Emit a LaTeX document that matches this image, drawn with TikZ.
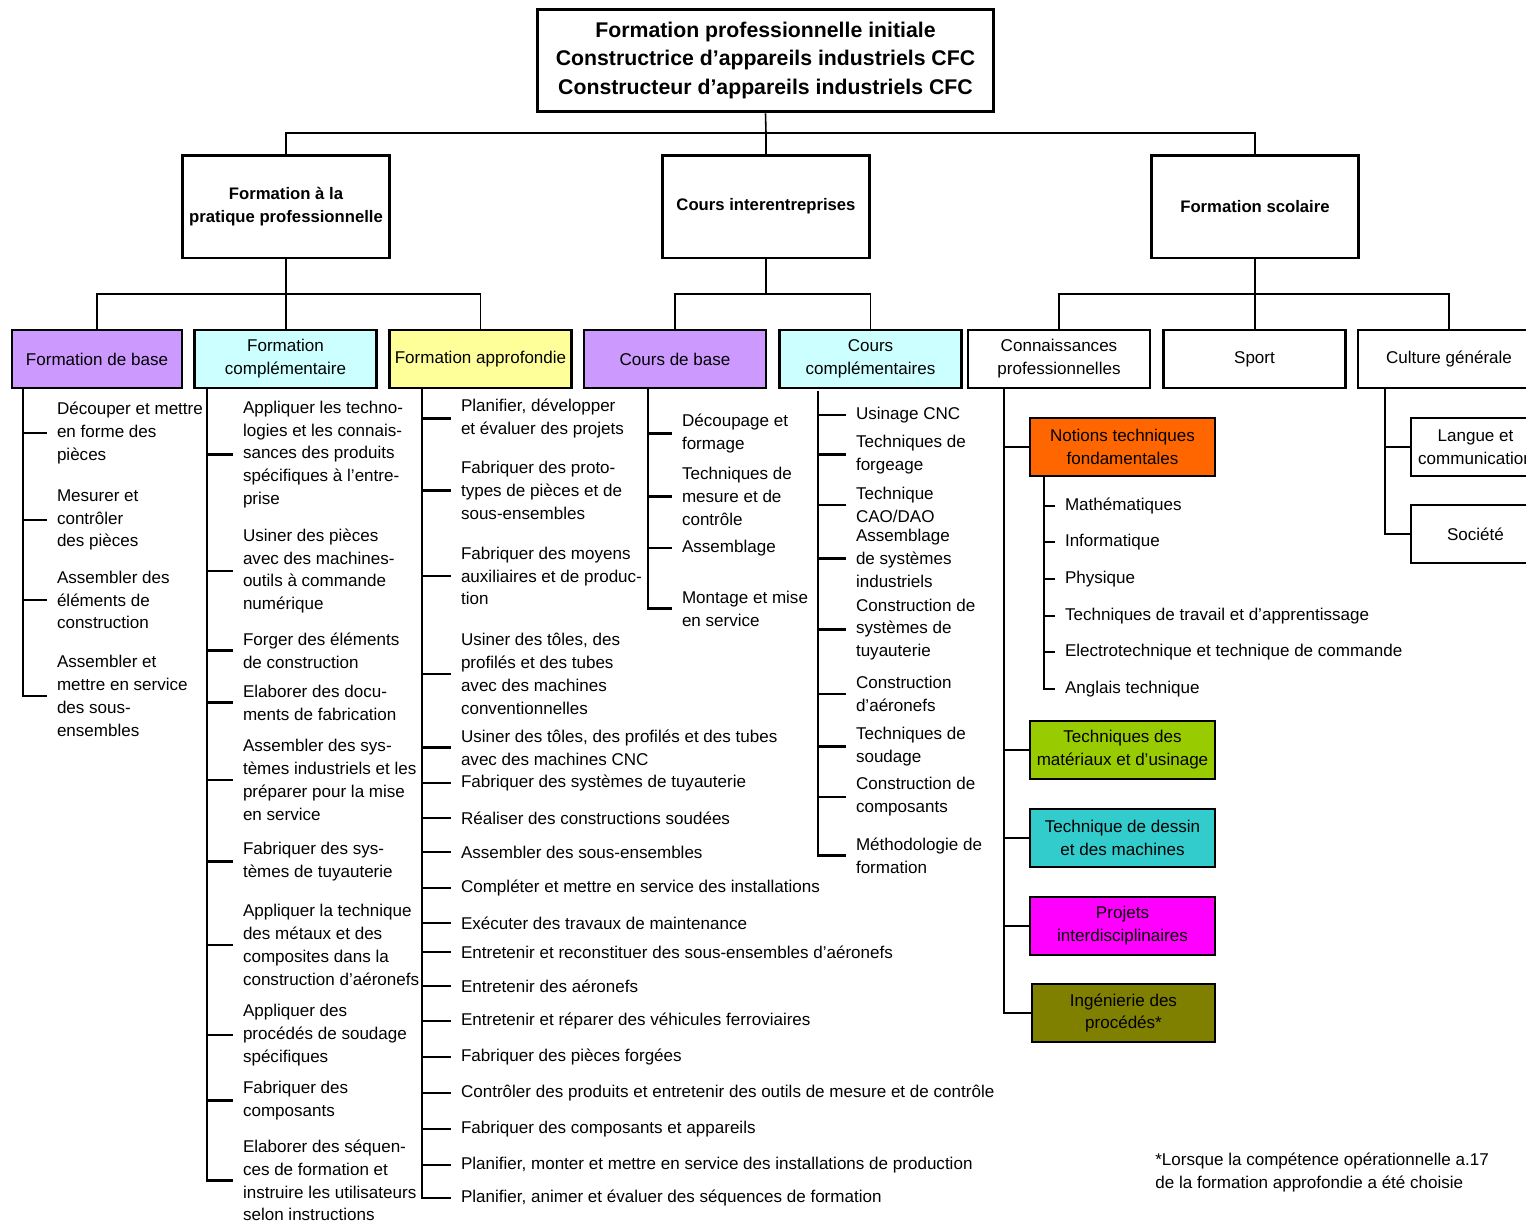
\documentclass[tikz,border=0pt]{standalone}
\usepackage{fontspec}
\setmainfont{Liberation Sans}
\usepackage{xcolor}
\usetikzlibrary{positioning}

\definecolor{lila}{HTML}{CC99FF}
\definecolor{hellcyan}{HTML}{CCFFFF}
\definecolor{hellgelb}{HTML}{FFFF99}
\definecolor{orangebox}{HTML}{FF6600}
\definecolor{gruenbox}{HTML}{99CC00}
\definecolor{tuerkisbox}{HTML}{33CCCC}
\definecolor{magentabox}{HTML}{FF00FF}
\definecolor{olivbox}{HTML}{808000}

\newcommand{\bodyfont}{\fontsize{9.7}{13}\selectfont}

\tikzset{
  topbox/.style={draw, line width=1.7pt, minimum width=9.14cm, minimum height=2.06cm,
    align=center, font=\fontsize{12.1}{16.4}\selectfont\bfseries},
  mainbox/.style={draw, line width=1.7pt, minimum width=4.16cm, minimum height=2.06cm,
    align=center, inner sep=1pt, font=\fontsize{9.5}{13}\selectfont\bfseries},
  subbox/.style={draw, line width=1.2pt, minimum width=3.64cm, minimum height=1.16cm,
    align=center, inner sep=1pt, font=\bodyfont},
  colbox/.style={subbox, minimum width=3.7cm},
  item/.style={anchor=west, align=left, inner xsep=5.5pt, inner ysep=0pt, font=\bodyfont},
  link/.style={line width=0.9pt},
  tick/.style={line width=1.4pt}
}

\begin{document}
\begin{tikzpicture}[x=0.02cm, y=-0.02cm]
  \useasboundingbox (0,0) rectangle (1526,1224);
  \clip (0,0) rectangle (1526,1224);

  % Titre
  \node[topbox] (top) at (765.5,60.5) {Formation professionnelle initiale\\Constructrice d’appareils industriels CFC\\Constructeur d’appareils industriels CFC};

  % Trois lieux de formation
  \node[mainbox] (pp) at (286,206.5) {Formation à la\\pratique professionnelle};
  \node[mainbox] (ci) at (766,206.5) {Cours interentreprises};
  \node[mainbox] (fs) at (1255,206.5) {Formation scolaire};

  \coordinate (j0) at (766,133);
  \draw[link] (top.south) -- (j0);
  \draw[link] (pp.north) |- (j0) -| (fs.north);
  \draw[link] (j0) -- (ci.north);

  % Troisieme niveau
  \node[subbox, fill=lila, minimum width=3.4cm] (fb) at (97,359) {Formation de base};
  \node[subbox, fill=hellcyan] (fc) at (285.5,359) {Formation\\complémentaire};
  \node[subbox, fill=hellgelb] (fa) at (480.5,359) {Formation approfondie};
  \node[subbox, fill=lila] (cb) at (675,359) {Cours de base};
  \node[subbox, fill=hellcyan] (cc) at (870.5,359) {Cours\\complémentaires};
  \node[subbox] (kp) at (1059,359) {Connaissances\\professionnelles};
  \node[subbox] (sp) at (1254.5,359) {Sport};
  \node[subbox] (cg) at (1449,359) {Culture générale};

  \coordinate (j1) at (286,294);
  \draw[link] (pp.south) -- (j1);
  \draw[link] (fb.north) |- (j1) -| (fa.north);
  \draw[link] (j1) -- (j1 |- fc.north);
  \coordinate (j2) at (766,294);
  \draw[link] (ci.south) -- (j2);
  \draw[link] (cb.north) |- (j2) -| (cc.north);
  \coordinate (j3) at (1255,294);
  \draw[link] (fs.south) -- (j3);
  \draw[link] (kp.north) |- (j3) -| (cg.north);
  \draw[link] (j3) -- (j3 |- sp.north);

  % Formation de base
  \node[item] (fb1) at (47,433) {Découper et mettre\\en forme des\\pièces};
  \node[item] (fb2) at (47,520) {Mesurer et\\contrôler\\des pièces};
  \node[item] (fb3) at (47,600) {Assembler des\\éléments de\\construction};
  \node[item] (fb4) at (47,696) {Assembler et\\mettre en service\\des sous-\\ensembles};
  \coordinate (fbs) at (23,388);
  \draw[tick] (fbs) |- (fb4.west) (fbs |- fb1.west) -- (fb1.west)
    (fbs |- fb2.west) -- (fb2.west) (fbs |- fb3.west) -- (fb3.west);

  % Formation complementaire
  \node[item] (fc1) at (233,454.5) {Appliquer les techno-\\logies et les connais-\\sances des produits\\spécifiques à l’entre-\\prise};
  \node[item] (fc2) at (233,571) {Usiner des pièces\\avec des machines-\\outils à commande\\numérique};
  \node[item] (fc3) at (233,650.5) {Forger des éléments\\de construction};
  \node[item] (fc4) at (233,702.5) {Elaborer des docu-\\ments de fabrication};
  \node[item] (fc5) at (233,780) {Assembler des sys-\\tèmes industriels et les\\préparer pour la mise\\en service};
  \node[item] (fc6) at (233,861.5) {Fabriquer des sys-\\tèmes de tuyauterie};
  \node[item] (fc7) at (233,945) {Appliquer la technique\\des métaux et des\\composites dans la\\construction d’aéronefs};
  \node[item] (fc8) at (233,1035) {Appliquer des\\procédés de soudage\\spécifiques};
  \node[item] (fc9) at (233,1100.5) {Fabriquer des\\composants};
  \node[item] (fc10) at (233,1180.5) {Elaborer des séquen-\\ces de formation et\\instruire les utilisateurs\\selon instructions};
  \coordinate (fcs) at (207,388);
  \draw[tick] (fcs) |- (fc10.west) (fcs |- fc1.west) -- (fc1.west)
    (fcs |- fc2.west) -- (fc2.west) (fcs |- fc3.west) -- (fc3.west)
    (fcs |- fc4.west) -- (fc4.west) (fcs |- fc5.west) -- (fc5.west)
    (fcs |- fc6.west) -- (fc6.west) (fcs |- fc7.west) -- (fc7.west)
    (fcs |- fc8.west) -- (fc8.west) (fcs |- fc9.west) -- (fc9.west);

  % Formation approfondie
  \node[item] (fa1) at (451,418.5) {Planifier, développer\\et évaluer des projets};
  \node[item] (fa2) at (451,490.5) {Fabriquer des proto-\\types de pièces et de\\sous-ensembles};
  \node[item] (fa3) at (451,576) {Fabriquer des moyens\\auxiliaires et de produc-\\tion};
  \node[item] (fa4) at (451,674) {Usiner des tôles, des\\profilés et des tubes\\avec des machines\\conventionnelles};
  \node[item] (fa5) at (451,747.5) {Usiner des tôles, des profilés et des tubes\\avec des machines CNC};
  \node[item] (fa6) at (451,783) {Fabriquer des systèmes de tuyauterie};
  \node[item] (fa7) at (451,818) {Réaliser des constructions soudées};
  \node[item] (fa8) at (451,852) {Assembler des sous-ensembles};
  \node[item] (fa9) at (451,888) {Compléter et mettre en service des installations};
  \node[item] (fa10) at (451,923) {Exécuter des travaux de maintenance};
  \node[item] (fa11) at (451,952) {Entretenir et reconstituer des sous-ensembles d’aéronefs};
  \node[item] (fa12) at (451,986) {Entretenir des aéronefs};
  \node[item] (fa13) at (451,1021) {Entretenir et réparer des véhicules ferroviaires};
  \node[item] (fa14) at (451,1057) {Fabriquer des pièces forgées};
  \node[item] (fa15) at (451,1093) {Contrôler des produits et entretenir des outils de mesure et de contrôle};
  \node[item] (fa16) at (451,1129) {Fabriquer des composants et appareils};
  \node[item] (fa17) at (451,1165) {Planifier, monter et mettre en service des installations de production};
  \node[item] (fa18) at (451,1198) {Planifier, animer et évaluer des séquences de formation};
  \coordinate (fas) at (422,388);
  \draw[tick] (fas) |- (fa18.west) (fas |- fa1.west) -- (fa1.west)
    (fas |- fa2.west) -- (fa2.west) (fas |- fa3.west) -- (fa3.west)
    (fas |- fa4.west) -- (fa4.west) (fas |- fa5.west) -- (fa5.west)
    (fas |- fa6.west) -- (fa6.west) (fas |- fa7.west) -- (fa7.west)
    (fas |- fa8.west) -- (fa8.west) (fas |- fa9.west) -- (fa9.west)
    (fas |- fa10.west) -- (fa10.west) (fas |- fa11.west) -- (fa11.west)
    (fas |- fa12.west) -- (fa12.west) (fas |- fa13.west) -- (fa13.west)
    (fas |- fa14.west) -- (fa14.west) (fas |- fa15.west) -- (fa15.west)
    (fas |- fa16.west) -- (fa16.west) (fas |- fa17.west) -- (fa17.west);

  % Cours de base
  \node[item] (cb1) at (672,433.5) {Découpage et\\formage};
  \node[item] (cb2) at (672,496.5) {Techniques de\\mesure et de\\contrôle};
  \node[item] (cb3) at (672,548) {Assemblage};
  \node[item] (cb4) at (672,608.5) {Montage et mise\\en service};
  \coordinate (cbs) at (648,388);
  \draw[tick] (cbs) |- (cb4.west) (cbs |- cb1.west) -- (cb1.west)
    (cbs |- cb2.west) -- (cb2.west) (cbs |- cb3.west) -- (cb3.west);

  % Cours complementaires
  \node[item] (cc1) at (846,415) {Usinage CNC};
  \node[item] (cc2) at (846,454.5) {Techniques de\\forgeage};
  \node[item] (cc3) at (846,505) {Technique\\CAO/DAO};
  \node[item] (cc4) at (846,558.5) {Assemblage\\de systèmes\\industriels};
  \node[item] (cc5) at (846,629.5) {Construction de\\systèmes de\\tuyauterie};
  \node[item] (cc6) at (846,694) {Construction\\d’aéronefs};
  \node[item] (cc7) at (846,746.5) {Techniques de\\soudage};
  \node[item] (cc8) at (846,797) {Construction de\\composants};
  \node[item] (cc9) at (846,855.5) {Méthodologie de\\formation};
  \coordinate (ccs) at (818,391);
  \draw[tick] (ccs) |- (cc9.west) (ccs |- cc1.west) -- (cc1.west)
    (ccs |- cc2.west) -- (cc2.west) (ccs |- cc3.west) -- (cc3.west)
    (ccs |- cc4.west) -- (cc4.west) (ccs |- cc5.west) -- (cc5.west)
    (ccs |- cc6.west) -- (cc6.west) (ccs |- cc7.west) -- (cc7.west)
    (ccs |- cc8.west) -- (cc8.west);

  % Connaissances professionnelles
  \node[colbox, fill=orangebox] (nt) at (1122.5,447) {Notions techniques\\fondamentales};
  \node[colbox, fill=gruenbox] (tm) at (1122.5,750) {Techniques des\\matériaux et d’usinage};
  \node[colbox, fill=tuerkisbox] (td) at (1122.5,838) {Technique de dessin\\et des machines};
  \node[colbox, fill=magentabox] (pi) at (1122.5,926) {Projets\\interdisciplinaires};
  \node[colbox, fill=olivbox, minimum width=3.66cm] (ip) at (1123.5,1013) {Ingénierie des\\procédés*};
  \coordinate (kps) at (1004,388);
  \draw[tick] (kps) |- (ip.west) (kps |- nt.west) -- (nt.west)
    (kps |- tm.west) -- (tm.west) (kps |- td.west) -- (td.west)
    (kps |- pi.west) -- (pi.west);

  \node[item] (nt1) at (1055,506) {Mathématiques};
  \node[item] (nt2) at (1055,542) {Informatique};
  \node[item] (nt3) at (1055,579) {Physique};
  \node[item] (nt4) at (1055,616) {Techniques de travail et d’apprentissage};
  \node[item] (nt5) at (1055,652) {Electrotechnique et technique de commande};
  \node[item] (nt6) at (1055,689) {Anglais technique};
  \coordinate (nts) at (1044,476);
  \draw[link] (nts) |- (nt6.west) (nts |- nt1.west) -- (nt1.west)
    (nts |- nt2.west) -- (nt2.west) (nts |- nt3.west) -- (nt3.west)
    (nts |- nt4.west) -- (nt4.west) (nts |- nt5.west) -- (nt5.west);

  % Culture generale
  \node[subbox, minimum width=2.58cm] (lc) at (1475.5,447) {Langue et\\communication};
  \node[subbox, minimum width=2.58cm] (so) at (1475.5,534) {Société};
  \coordinate (cgs) at (1385,388);
  \draw[tick] (cgs) |- (so.west) (cgs |- lc.west) -- (lc.west);

  % Note
  \node[item, inner xsep=0pt] (note) at (1155,1172.5) {*Lorsque la compétence opérationnelle a.17\\de la formation approfondie a été choisie};
\end{tikzpicture}
\end{document}
